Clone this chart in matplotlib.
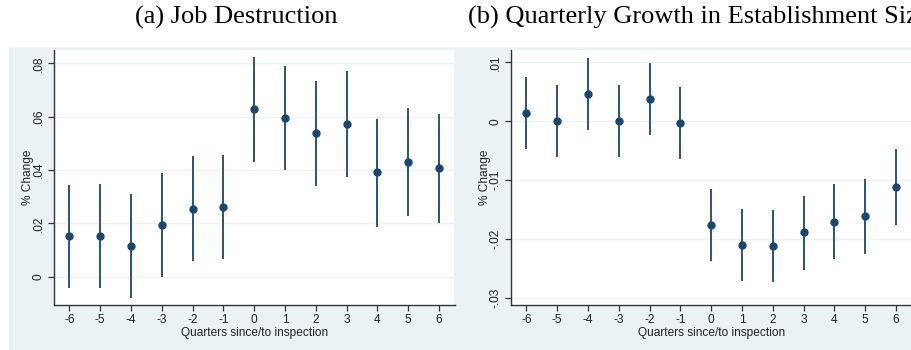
import matplotlib
matplotlib.use("Agg")
import matplotlib.pyplot as plt
from matplotlib.patches import Rectangle
import numpy as np

quarters = [-6, -5, -4, -3, -2, -1, 0, 1, 2, 3, 4, 5, 6]

# (a) Job Destruction
jd_point = [0.0152, 0.0153, 0.0115, 0.0193, 0.0255, 0.0263, 0.0628, 0.0596, 0.0539, 0.0573, 0.0392, 0.0430, 0.0406]
jd_hi = [0.0344, 0.0348, 0.0310, 0.0388, 0.0453, 0.0456, 0.0823, 0.0791, 0.0735, 0.0771, 0.0591, 0.0634, 0.0610]
jd_lo = [-0.0044, -0.0044, -0.0081, 0.0000, 0.0059, 0.0068, 0.0431, 0.0400, 0.0341, 0.0375, 0.0188, 0.0228, 0.0200]

# (b) Quarterly Growth in Establishment Size
gr_point = [0.0014, 0.0000, 0.0047, 0.0000, 0.0037, -0.0003, -0.0175, -0.0209, -0.0212, -0.0188, -0.0170, -0.0161, -0.0111]
gr_hi = [0.0075, 0.0061, 0.0108, 0.0061, 0.0099, 0.0058, -0.0114, -0.0148, -0.0150, -0.0126, -0.0107, -0.0098, -0.0047]
gr_lo = [-0.0047, -0.0061, -0.0014, -0.0061, -0.0024, -0.0064, -0.0236, -0.0270, -0.0273, -0.0252, -0.0233, -0.0225, -0.0175]

jd_yticks = [0.0, 0.02, 0.04, 0.06, 0.08]
jd_yticklabels = ["0", ".02", ".04", ".06", ".08"]
gr_yticks = [-0.03, -0.02, -0.01, 0.0, 0.01]
gr_yticklabels = ["-.03", "-.02", "-.01", "0", ".01"]

titles = ["(a) Job Destruction", "(b) Quarterly Growth in Establishment Size"]
xlabel = "Quarters since/to inspection"
ylabel = "% Change"

NAVY = "#1a476f"
BG = "#eaf2f3"
AX = "#333333"

W, H = 912, 350
fig = plt.figure(figsize=(W / 100, H / 100), dpi=100)
fig.patch.set_facecolor("white")

# graph region background
fig.add_artist(Rectangle((9 / W, 0), (W - 9) / W, (H - 47) / H,
                         transform=fig.transFigure, facecolor=BG,
                         edgecolor="none", zorder=0))

def px_axes(x0, x1, y0, y1):
    return fig.add_axes([x0 / W, (H - y1) / H, (x1 - x0) / W, (y1 - y0) / H])

ax1 = px_axes(54, 454.5, 50, 305)
ax2 = px_axes(511, 911.5, 50, 305)

panels = [
    (ax1, jd_point, jd_lo, jd_hi, jd_yticks, jd_yticklabels, (-0.0106, 0.0850)),
    (ax2, gr_point, gr_lo, gr_hi, gr_yticks, gr_yticklabels, (-0.03114, 0.01208)),
]

tickfont = dict(family="Liberation Sans", size=8.6)

for ax, pt, lo, hi, yt, ytl, ylim in panels:
    ax.set_facecolor("white")
    ax.set_zorder(2)
    ax.vlines(quarters, lo, hi, color=NAVY, lw=1.3, zorder=3)
    ax.plot(quarters, pt, "o", color=NAVY, ms=5, zorder=4)
    ax.set_xlim(-6.5, 6.5)
    ax.set_ylim(*ylim)
    ax.set_xticks(quarters)
    ax.set_xticklabels([str(q) for q in quarters], fontdict=tickfont, color="#222222")
    ax.set_yticks(yt)
    ax.set_yticklabels(ytl, fontdict=tickfont, rotation=90, va="center", color="#222222")
    ax.grid(axis="y", color=BG, lw=1.0, zorder=1)
    ax.set_axisbelow(True)
    for s in ["top", "right"]:
        ax.spines[s].set_visible(False)
    for s in ["left", "bottom"]:
        ax.spines[s].set_color(AX)
        ax.spines[s].set_linewidth(1.0)
    ax.tick_params(axis="both", length=4.5, width=0.9, color=AX, pad=2)
    ax.set_xlabel(xlabel, fontdict=tickfont, color="#222222", labelpad=1)
    ax.set_ylabel(ylabel, fontdict=tickfont, color="#222222", labelpad=-1)

fig.text(236 / W, 1 - 17 / H, titles[0], family="Liberation Serif", size=19,
         ha="center", va="center")
fig.text(468 / W, 1 - 17 / H, titles[1], family="Liberation Serif", size=19,
         ha="left", va="center")

fig.savefig("out.png", dpi=100)
